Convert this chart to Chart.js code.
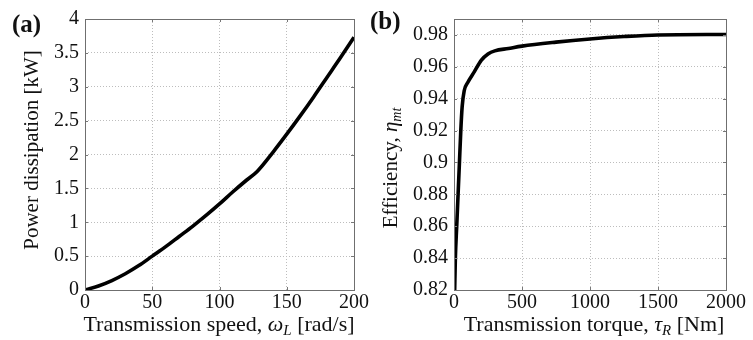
<!DOCTYPE html>
<html>
<head>
<meta charset="utf-8">
<script src="https://cdn.jsdelivr.net/npm/chart.js@4/dist/chart.umd.min.js"></script>
<style>
  html, body { margin:0; padding:0; background:#fff; }
  #wrap { position:relative; width:753px; height:340px; }
  canvas { position:absolute; top:0; }
</style>
</head>
<body>
<div id="wrap">
  <canvas id="ca" width="370" height="340" style="left:0"></canvas>
  <canvas id="cb" width="383" height="340" style="left:370px"></canvas>
</div>
<script>
// ---- Panel (a) data ----
const aSpeed = [0, 10, 20, 30, 40, 50, 60, 70, 80, 90, 100, 110, 120, 128, 140, 150, 160, 170, 180, 190, 200];
const aPower = [0, 0.06, 0.14, 0.24, 0.36, 0.50, 0.64, 0.79, 0.94, 1.10, 1.27, 1.45, 1.62, 1.75, 2.04, 2.30, 2.57, 2.85, 3.14, 3.43, 3.73];
const aXTicks = [0, 50, 100, 150, 200];
const aYTicks = [0, 0.5, 1, 1.5, 2, 2.5, 3, 3.5, 4];

// ---- Panel (b) data ----
const bTorque = [5, 10, 20, 30, 40, 50, 60, 75, 100, 150, 200, 250, 300, 400, 500, 750, 1000, 1250, 1500, 2000];
const bEff = [0.82, 0.84, 0.86, 0.88, 0.90, 0.92, 0.935, 0.945, 0.950, 0.957, 0.964, 0.968, 0.970, 0.9715, 0.973, 0.9755, 0.9775, 0.979, 0.980, 0.9803];
const bXTicks = [0, 500, 1000, 1500, 2000];
const bYTicks = [0.82, 0.84, 0.86, 0.88, 0.9, 0.92, 0.94, 0.96, 0.98];

const SERIF = '"Liberation Serif", "DejaVu Serif", serif';

function drawRich(ctx, segs, cx, cy, rotate) {
  ctx.save();
  ctx.translate(cx, cy);
  if (rotate) ctx.rotate(-Math.PI / 2);
  let total = 0;
  segs.forEach(s => { ctx.font = s.f; total += ctx.measureText(s.t).width; });
  let x = -total / 2;
  ctx.fillStyle = '#111';
  ctx.textBaseline = 'alphabetic';
  ctx.textAlign = 'left';
  segs.forEach(s => {
    ctx.font = s.f;
    ctx.fillText(s.t, x, 7 + (s.dy || 0));
    x += ctx.measureText(s.t).width;
  });
  ctx.restore();
}

function makeChart(id, xs, ys, xTicks, yTicks, xMin, xMax, yMin, yMax, yAxisW, padRight, deco) {
  const pts = xs.map((x, i) => ({ x: x, y: ys[i] }));
  const fmt = v => String(+Number(v).toFixed(2));
  const decoPlugin = {
    id: 'deco' + id,
    afterDraw(chart) {
      const ctx = chart.ctx, a = chart.chartArea;
      const xs_ = chart.scales.x, ys_ = chart.scales.y;
      ctx.save();
      ctx.strokeStyle = '#777';
      ctx.lineWidth = 1;
      ctx.setLineDash([]);
      xTicks.forEach(v => {
        const px = Math.round(xs_.getPixelForValue(v)) + 0.5;
        ctx.beginPath();
        ctx.moveTo(px, a.bottom); ctx.lineTo(px, a.bottom - 3);
        ctx.moveTo(px, a.top); ctx.lineTo(px, a.top + 3);
        ctx.stroke();
      });
      yTicks.forEach(v => {
        const py = Math.round(ys_.getPixelForValue(v)) + 0.5;
        ctx.beginPath();
        ctx.moveTo(a.left, py); ctx.lineTo(a.left + 3, py);
        ctx.moveTo(a.right, py); ctx.lineTo(a.right - 3, py);
        ctx.stroke();
      });
      ctx.strokeStyle = '#6f6f6f';
      ctx.strokeRect(Math.round(a.left) + 0.5, Math.round(a.top) + 0.5,
                     Math.round(a.right - a.left), Math.round(a.bottom - a.top));
      ctx.restore();
      deco(ctx, a);
    }
  };
  return new Chart(document.getElementById(id), {
    type: 'line',
    data: { datasets: [{ data: pts, borderColor: '#000', borderWidth: 3.6,
      pointRadius: 0, fill: false, cubicInterpolationMode: 'monotone' }] },
    options: {
      responsive: false, animation: false, devicePixelRatio: 1,
      layout: { padding: { left: 0, right: padRight, top: 19, bottom: 0 } },
      plugins: { legend: { display: false }, tooltip: { enabled: false } },
      scales: {
        x: {
          type: 'linear', min: xMin, max: xMax,
          afterBuildTicks: s => { s.ticks = xTicks.map(v => ({ value: v })); },
          afterFit: s => { s.height = 50; },
          grid: { color: '#bdbdbd', lineWidth: 1, drawTicks: false },
          border: { display: false, dash: [1, 2] },
          ticks: { padding: 1, color: '#111', font: { family: SERIF, size: 20 }, callback: fmt, maxRotation: 0 }
        },
        y: {
          type: 'linear', min: yMin, max: yMax,
          afterBuildTicks: s => { s.ticks = yTicks.map(v => ({ value: v })); },
          afterFit: s => { s.width = yAxisW; },
          grid: { color: '#bdbdbd', lineWidth: 1, drawTicks: false },
          border: { display: false, dash: [1, 2] },
          ticks: { padding: 6, color: '#111', font: { family: SERIF, size: 20 }, callback: fmt }
        }
      }
    },
    plugins: [decoPlugin]
  });
}

makeChart('ca', aSpeed, aPower, aXTicks, aYTicks, 0, 200, 0, 4, 85, 14, (ctx, a) => {
  drawRich(ctx, [
    { t: 'Transmission speed, ', f: '22px ' + SERIF },
    { t: 'ω', f: 'italic 22px ' + SERIF },
    { t: 'L', f: 'italic 15px ' + SERIF, dy: 4 },
    { t: ' [rad/s]', f: '22px ' + SERIF }
  ], 219, 324, false);
  drawRich(ctx, [{ t: 'Power dissipation [kW]', f: '21px ' + SERIF }], 31, 150, true);
  ctx.save();
  ctx.fillStyle = '#111';
  ctx.font = 'bold 25px ' + SERIF;
  ctx.textAlign = 'left';
  ctx.fillText('(a)', 12, 32);
  ctx.restore();
});

makeChart('cb', bTorque, bEff, bXTicks, bYTicks, 0, 2000, 0.82, 0.99, 84, 27, (ctx, a) => {
  drawRich(ctx, [
    { t: 'Transmission torque, ', f: '22px ' + SERIF },
    { t: 'τ', f: 'italic 22px ' + SERIF },
    { t: 'R', f: 'italic 15px ' + SERIF, dy: 4 },
    { t: ' [Nm]', f: '22px ' + SERIF }
  ], 224, 324, false);
  drawRich(ctx, [
    { t: 'Efficiency, ', f: '21px ' + SERIF },
    { t: 'η', f: 'italic 21px ' + SERIF },
    { t: 'mt', f: 'italic 14px ' + SERIF, dy: 4 }
  ], 20, 168, true);
  ctx.save();
  ctx.fillStyle = '#111';
  ctx.font = 'bold 25px ' + SERIF;
  ctx.textAlign = 'left';
  ctx.fillText('(b)', 0, 29);
  ctx.restore();
});
</script>
</body>
</html>
